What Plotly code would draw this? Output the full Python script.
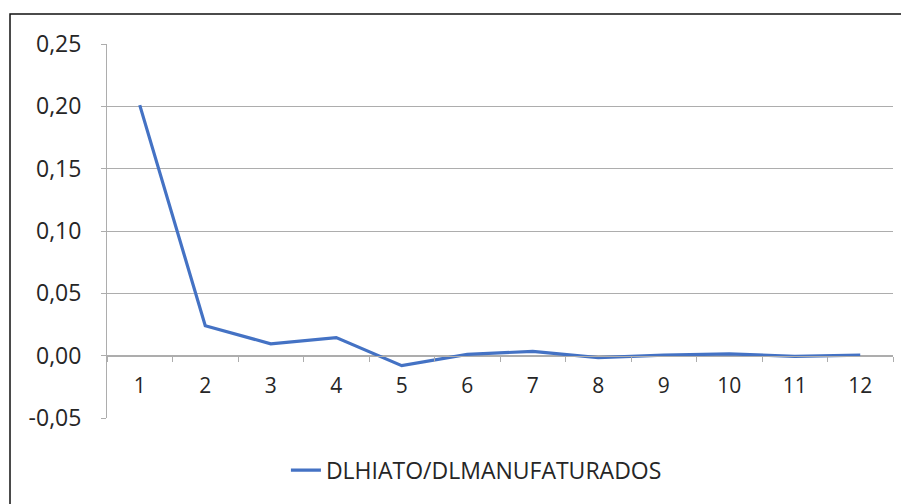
import plotly.graph_objects as go

# Dados
periodos = ['1', '2', '3', '4', '5', '6', '7', '8', '9', '10', '11', '12']
resposta = [0.201, 0.024, 0.0095, 0.0145, -0.008, 0.001, 0.0035, -0.0015, 0.0005, 0.0015, -0.0005, 0.0005]
serie_nome = 'DLHIATO/DLMANUFATURADOS'
y_ticks = [-0.05, 0.0, 0.05, 0.10, 0.15, 0.20, 0.25]

FONTE = 'Open Sans'
COR_TEXTO = '#262626'
COR_GRADE = '#ADADAD'

# rótulos no formato pt-BR, com hífen simples no sinal negativo
y_rotulos = [f'{v:.2f}'.replace('.', ',') for v in y_ticks]

fig = go.Figure()

fig.add_trace(go.Scatter(
    x=periodos,
    y=resposta,
    mode='lines',
    name=serie_nome,
    line=dict(color='#4472C4', width=3.2)
))

# moldura do gráfico (estilo Excel), cortada à direita e embaixo como no original
fig.add_shape(type='rect', xref='paper', yref='paper',
              x0=-0.1234, x1=1.3, y0=-0.7, y1=1.0802,
              line=dict(color='#111111', width=1.5), layer='above')

# a página tem 8px de margem no body, por isso as margens são deslocadas
fig.update_layout(
    width=909,
    height=504,
    margin=dict(l=99, r=24, t=36, b=94, autoexpand=False),
    paper_bgcolor='white',
    plot_bgcolor='white',
    font=dict(family=FONTE, size=21, color=COR_TEXTO),
    showlegend=True,
    legend=dict(orientation='h', x=0.47, xanchor='center',
                yref='container', y=0.083, yanchor='middle',
                font=dict(size=23, color=COR_TEXTO)),
    xaxis=dict(
        type='category',
        range=[-0.5, 11.5],
        anchor='free',
        position=1 / 6,
        showgrid=False,
        showline=True,
        linecolor=COR_GRADE,
        ticks='outside',
        ticklen=5,
        tickcolor=COR_GRADE,
        tickson='boundaries',
        ticklabelstandoff=11,
        tickfont=dict(size=21, color=COR_TEXTO),
        automargin=False,
    ),
    yaxis=dict(
        range=[-0.05, 0.25],
        tickvals=y_ticks,
        ticktext=y_rotulos,
        showgrid=True,
        gridcolor=COR_GRADE,
        gridwidth=1,
        zeroline=False,
        showline=True,
        linecolor=COR_GRADE,
        ticks='outside',
        ticklen=5,
        tickcolor=COR_GRADE,
        ticklabelstandoff=15,
        tickfont=dict(size=23, color=COR_TEXTO),
        automargin=False,
    ),
)

fig.write_html("out.html")
